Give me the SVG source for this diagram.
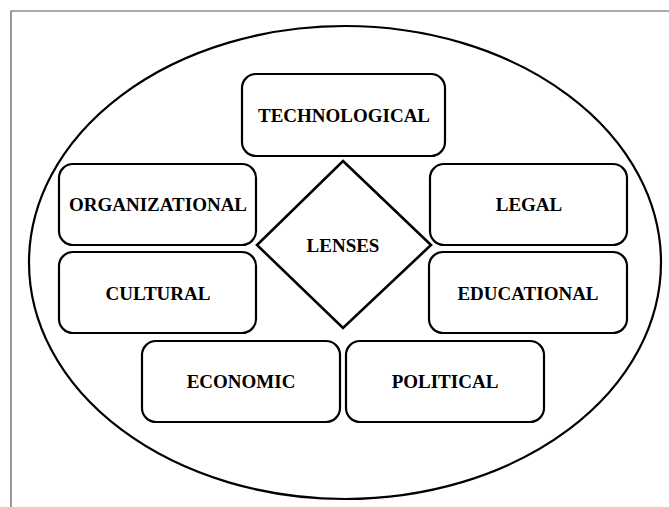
<svg xmlns="http://www.w3.org/2000/svg" width="669" height="507" viewBox="0 0 669 507">
<style>
.box{fill:#fff;stroke:#000;stroke-width:2.2}
.lbl{font-family:"Liberation Serif","Times New Roman",serif;font-weight:bold;font-size:19px;fill:#000;text-anchor:middle}
</style>
<rect width="669" height="507" fill="#fff"/>
<path d="M11,507 V11 H669" fill="none" stroke="#555" stroke-width="1.2"/>
<g id="outer">
<ellipse cx="345" cy="262.5" rx="316" ry="236.5" fill="none" stroke="#000" stroke-width="2.2"/>
</g>
<g id="connectors"></g>
<g id="technological"><rect class="box" x="242" y="74" width="203" height="82" rx="14"/><text class="lbl" x="344" y="122">TECHNOLOGICAL</text></g>
<g id="organizational"><rect class="box" x="59" y="164" width="197" height="81" rx="14"/><text class="lbl" x="158" y="211">ORGANIZATIONAL</text></g>
<g id="legal"><rect class="box" x="430" y="164" width="197" height="81" rx="14"/><text class="lbl" x="529" y="211">LEGAL</text></g>
<g id="cultural"><rect class="box" x="59" y="252" width="197" height="81" rx="14"/><text class="lbl" x="158" y="300">CULTURAL</text></g>
<g id="educational"><rect class="box" x="429" y="252" width="198" height="81" rx="14"/><text class="lbl" x="528" y="300">EDUCATIONAL</text></g>
<g id="economic"><rect class="box" x="142" y="341" width="198" height="81" rx="14"/><text class="lbl" x="241" y="388">ECONOMIC</text></g>
<g id="political"><rect class="box" x="346" y="341" width="198" height="81" rx="14"/><text class="lbl" x="445" y="388">POLITICAL</text></g>
<g id="lenses"><polygon points="343,161 431,245 343,328 257,245" fill="#fff" stroke="#000" stroke-width="2.6"/><text class="lbl" x="343" y="252">LENSES</text></g>
</svg>
